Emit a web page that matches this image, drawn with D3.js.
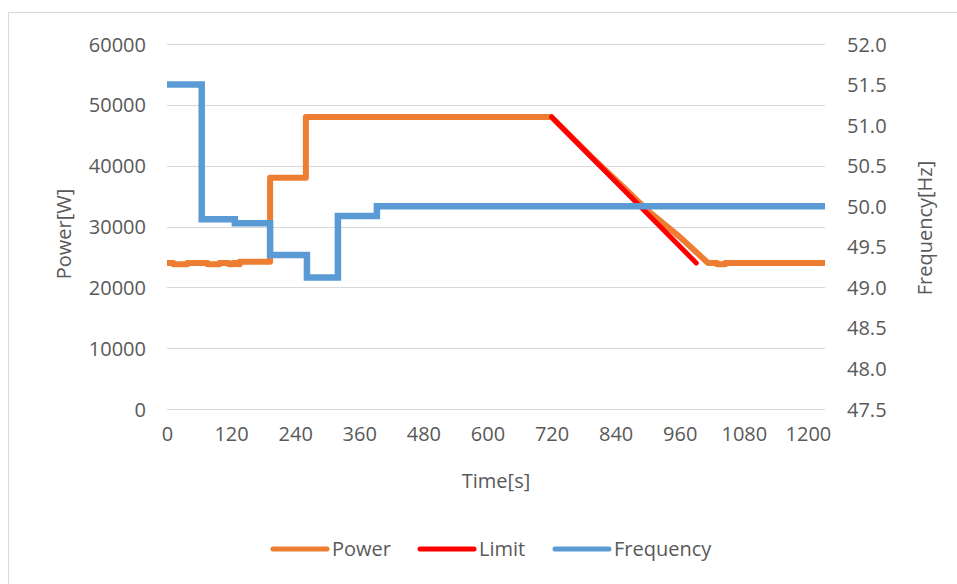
<!DOCTYPE html>
<html>
<head>
<meta charset="utf-8">
<script src="https://cdn.jsdelivr.net/npm/d3@7"></script>
<style>
  html, body { margin: 0; padding: 0; background: #ffffff; }
  svg { display: block; }
  text { font-family: "Open Sans", "Noto Sans", sans-serif; fill: #595959; }
</style>
</head>
<body>
<svg id="chart" width="957" height="584"></svg>
<script>
// Time axis ticks (seconds)
const timeTicks = [0, 120, 240, 360, 480, 600, 720, 840, 960, 1080, 1200];
const powerTicks = [0, 10000, 20000, 30000, 40000, 50000, 60000];
const freqTicks = [47.5, 48.0, 48.5, 49.0, 49.5, 50.0, 50.5, 51.0, 51.5, 52.0];

// Measured active power [W] (time [s], value)
const powerTime  = [0, 12, 12, 38, 38, 76, 76, 98, 98, 116, 116, 124, 124, 132, 132, 136, 136, 193, 193, 260, 260, 720, 800, 860, 900, 960, 1013, 1030, 1030, 1045, 1045, 1232];
const powerValue = [24000, 24000, 23800, 23800, 24000, 24000, 23800, 23800, 24000, 24000, 23800, 23800, 24000, 24000, 23800, 23800, 24200, 24200, 38000, 38000, 48000, 48000, 41000, 36000, 32600, 28300, 24000, 24000, 23800, 23800, 24000, 24000];

// Power limit [W] derived from the frequency droop
const limitTime  = [720, 991];
const limitValue = [48000, 24000];

// Grid frequency [Hz]
const freqTime  = [0, 65, 65, 127, 127, 193, 193, 262, 262, 320, 320, 393, 393, 1232];
const freqValue = [51.5, 51.5, 49.84, 49.84, 49.79, 49.79, 49.40, 49.40, 49.12, 49.12, 49.88, 49.88, 50.0, 50.0];

const svg = d3.select("#chart");

const plot = { left: 167, right: 825, top: 44, bottom: 409 };
const fontSize = 20;

const x = d3.scaleLinear().domain([0, 1232]).range([plot.left, plot.right]);
const yPower = d3.scaleLinear().domain([0, 60000]).range([plot.bottom, plot.top]);
const yFreq = d3.scaleLinear().domain([47.5, 52.0]).range([plot.bottom, plot.top]);

// Chart area frame
svg.append("rect")
  .attr("x", 8.5).attr("y", 12.5)
  .attr("width", 1000).attr("height", 1000)
  .attr("fill", "none")
  .attr("stroke", "#d9d9d9")
  .attr("stroke-width", 1);

// Horizontal gridlines (primary axis)
svg.append("g")
  .selectAll("line")
  .data(powerTicks)
  .join("line")
  .attr("x1", plot.left).attr("x2", plot.right)
  .attr("y1", d => Math.round(yPower(d)) + 0.5)
  .attr("y2", d => Math.round(yPower(d)) + 0.5)
  .attr("stroke", "#d9d9d9")
  .attr("stroke-width", 1);

// Left axis (Power)
const leftAxis = svg.append("g")
  .attr("transform", `translate(${plot.left - 21},0)`)
  .call(d3.axisLeft(yPower).tickValues(powerTicks).tickSize(0).tickPadding(0).tickFormat(d3.format("d")));
leftAxis.select(".domain").remove();
leftAxis.selectAll("text").attr("font-size", fontSize).attr("dy", "0.35em");

// Right axis (Frequency)
const rightAxis = svg.append("g")
  .attr("transform", `translate(${plot.right + 22},0)`)
  .call(d3.axisRight(yFreq).tickValues(freqTicks).tickSize(0).tickPadding(0).tickFormat(d3.format(".1f")));
rightAxis.select(".domain").remove();
rightAxis.selectAll("text").attr("font-size", fontSize).attr("dy", "0.35em");

// Bottom axis (Time)
const bottomAxis = svg.append("g")
  .attr("transform", `translate(0,${plot.bottom + 17})`)
  .call(d3.axisBottom(x).tickValues(timeTicks).tickSize(0).tickPadding(0).tickFormat(d3.format("d")));
bottomAxis.select(".domain").remove();
bottomAxis.selectAll("text").attr("font-size", fontSize).attr("dy", "0.75em");

svg.selectAll(".tick text").style("fill", "#595959").style("font-family", "'Open Sans', sans-serif");

// Axis titles
svg.append("text")
  .attr("transform", "translate(71,234) rotate(-90)")
  .attr("text-anchor", "middle")
  .attr("font-size", fontSize)
  .text("Power[W]");

svg.append("text")
  .attr("transform", "translate(932,228) rotate(-90)")
  .attr("text-anchor", "middle")
  .attr("font-size", fontSize)
  .text("Frequency[Hz]");

svg.append("text")
  .attr("x", 496).attr("y", 488)
  .attr("text-anchor", "middle")
  .attr("font-size", fontSize)
  .text("Time[s]");

// Series lines
const powerLine = d3.line()
  .x((d, i) => x(powerTime[i]))
  .y(d => yPower(d));
const limitLine = d3.line()
  .x((d, i) => x(limitTime[i]))
  .y(d => yPower(d));
const freqLine = d3.line()
  .x((d, i) => x(freqTime[i]))
  .y(d => yFreq(d));

svg.append("path")
  .attr("d", powerLine(powerValue))
  .attr("fill", "none")
  .attr("stroke", "#ed7d31")
  .attr("stroke-width", 6)
  .attr("stroke-linejoin", "round");

svg.append("path")
  .attr("d", limitLine(limitValue))
  .attr("fill", "none")
  .attr("stroke", "#ff0000")
  .attr("stroke-width", 5)
  .attr("stroke-linecap", "round");

svg.append("path")
  .attr("d", freqLine(freqValue))
  .attr("fill", "none")
  .attr("stroke", "#5b9bd5")
  .attr("stroke-width", 6.5)
  .attr("stroke-linejoin", "miter");

// Legend
const legendItems = [
  { name: "Power", color: "#ed7d31", x: 273 },
  { name: "Limit", color: "#ff0000", x: 420 },
  { name: "Frequency", color: "#5b9bd5", x: 555 }
];
const legend = svg.append("g");
legendItems.forEach(item => {
  legend.append("line")
    .attr("x1", item.x).attr("x2", item.x + 54)
    .attr("y1", 549).attr("y2", 549)
    .attr("stroke", item.color)
    .attr("stroke-width", 5)
    .attr("stroke-linecap", "round");
  legend.append("text")
    .attr("x", item.x + 59).attr("y", 549)
    .attr("dy", "0.35em")
    .attr("font-size", fontSize)
    .text(item.name);
});
</script>
</body>
</html>
